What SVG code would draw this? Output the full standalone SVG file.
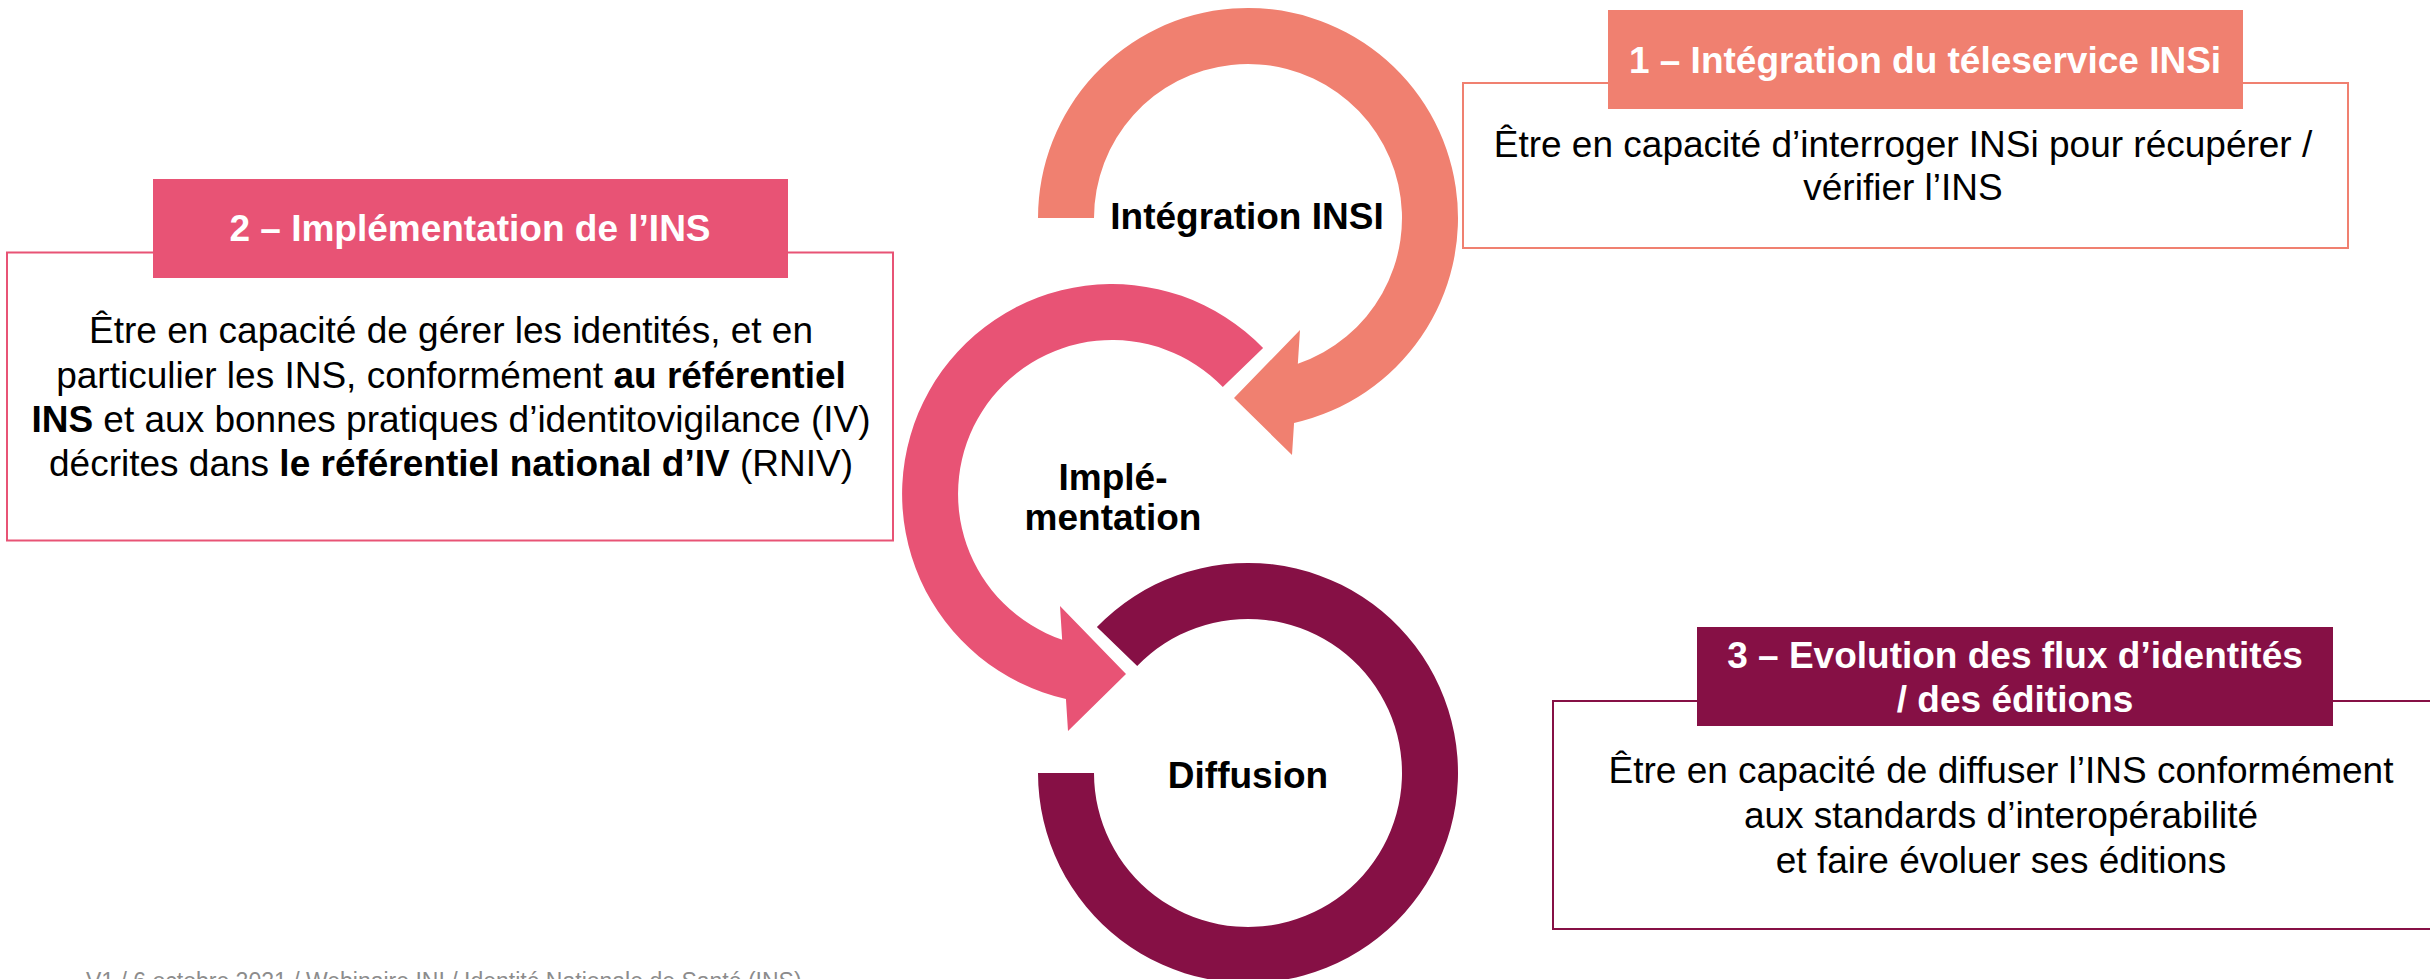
<svg xmlns="http://www.w3.org/2000/svg" width="2430" height="979" viewBox="0 0 2430 979">
<style>
.body{font-family:"Liberation Sans",Arial,sans-serif;font-size:37px;fill:#000;text-anchor:middle}
.head{font-family:"Liberation Sans",Arial,sans-serif;font-size:37px;font-weight:bold;fill:#fff;text-anchor:middle}
.lbl{font-family:"Liberation Sans",Arial,sans-serif;font-size:37px;font-weight:bold;fill:#000;text-anchor:middle}
.b{font-weight:bold}
.foot{font-family:"Liberation Sans",Arial,sans-serif;font-size:23px;fill:#8C8C8C}
</style>
<rect width="2430" height="979" fill="#fff"/>
<g id="cycle">
  <path id="arc-integration" fill="#F08070" d="M1038,218 A210,210 0 1 1 1294.06,422.9 L1292,455 L1234,398 L1300,330 L1297.84,363.7 A154,154 0 1 0 1094,218 Z"/>
  <path id="arc-implementation" fill="#E85375" d="M1263.1,348.1 A210,210 0 1 0 1065.94,698.9 L1068,731 L1126,674 L1060,606 L1062.16,639.7 A154,154 0 1 1 1222.8,387 Z"/>
  <path id="arc-diffusion" fill="#861045" d="M1096.9,627.1 A210,210 0 1 1 1038,773 L1094,773 A154,154 0 1 0 1137.2,666 Z"/>
  <text class="lbl" x="1247" y="229">Intégration INSI</text>
  <text class="lbl" x="1113" y="490">Implé-</text>
  <text class="lbl" x="1113" y="530">mentation</text>
  <text class="lbl" x="1248" y="788">Diffusion</text>
</g>
<g id="box1">
  <rect x="1463" y="83" width="885" height="165" fill="#fff" stroke="#F08070" stroke-width="2"/>
  <rect x="1608" y="10" width="635" height="99" fill="#F08070"/>
  <text class="head" x="1925" y="73">1 – Intégration du téleservice INSi</text>
  <text class="body" x="1903" y="157">Être en capacité d’interroger INSi pour récupérer /</text>
  <text class="body" x="1903" y="200">vérifier l’INS</text>
</g>
<g id="box2">
  <rect x="7" y="252.5" width="886" height="288" fill="#fff" stroke="#E85375" stroke-width="2"/>
  <rect x="153" y="179" width="635" height="99" fill="#E85375"/>
  <text class="head" x="470" y="241">2 – Implémentation de l’INS</text>
  <text class="body" x="451" y="343">Être en capacité de gérer les identités, et en</text>
  <text class="body" x="451" y="388">particulier les INS, conformément <tspan class="b">au référentiel</tspan></text>
  <text class="body" x="451" y="432"><tspan class="b">INS</tspan> et aux bonnes pratiques d’identitovigilance (IV)</text>
  <text class="body" x="451" y="476">décrites dans <tspan class="b">le référentiel national d’IV</tspan> (RNIV)</text>
</g>
<g id="box3">
  <rect x="1553" y="701" width="900" height="228" fill="#fff" stroke="#861045" stroke-width="2"/>
  <rect x="1697" y="627" width="636" height="99" fill="#861045"/>
  <text class="head" x="2015" y="668">3 – Evolution des flux d’identités</text>
  <text class="head" x="2015" y="712">/ des éditions</text>
  <text class="body" x="2001" y="783">Être en capacité de diffuser l’INS conformément</text>
  <text class="body" x="2001" y="828">aux standards d’interopérabilité</text>
  <text class="body" x="2001" y="873">et faire évoluer ses éditions</text>
</g>
<text class="foot" x="86" y="989">V1 / 6 octobre 2021 / Webinaire INI / Identité Nationale de Santé (INS)</text>
</svg>
